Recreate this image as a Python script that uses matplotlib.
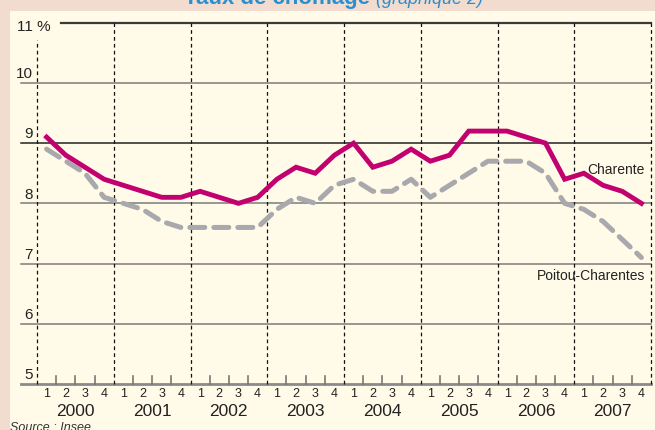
import matplotlib
matplotlib.use("Agg")
import matplotlib.pyplot as plt
from matplotlib.patches import Rectangle
import numpy as np

plt.rcParams['font.family'] = ['Liberation Sans', 'DejaVu Sans']

# Data: unemployment rate (%) per quarter, 2000 Q1 .. 2007 Q4
years = [2000, 2001, 2002, 2003, 2004, 2005, 2006, 2007]
quarter_labels = ["1", "2", "3", "4"]
charente = [9.1, 8.8, 8.6, 8.4, 8.3, 8.2, 8.1, 8.1,
            8.2, 8.1, 8.0, 8.1, 8.4, 8.6, 8.5, 8.8,
            9.0, 8.6, 8.7, 8.9, 8.7, 8.8, 9.2, 9.2,
            9.2, 9.1, 9.0, 8.4, 8.5, 8.3, 8.2, 8.0]
poitou = [8.9, 8.7, 8.5, 8.1, 8.0, 7.9, 7.7, 7.6,
          7.6, 7.6, 7.6, 7.6, 7.9, 8.1, 8.0, 8.3,
          8.4, 8.2, 8.2, 8.4, 8.1, 8.3, 8.5, 8.7,
          8.7, 8.7, 8.5, 8.0, 7.9, 7.7, 7.4, 7.1]
y_ticks = [5, 6, 7, 8, 9, 10]
y_top = 11

PINK = "#f1dccf"
CREAM = "#fffbe8"
MAGENTA = "#c2006f"
GREY = "#a8a8ad"
BLUE = "#2a8fd0"

W, H = 655, 430
fig = plt.figure(figsize=(W / 100, H / 100), dpi=100, facecolor=PINK)
fig.add_artist(Rectangle((10 / W, 0), 1, 1 - 11 / H, transform=fig.transFigure,
                         facecolor=CREAM, edgecolor="none", zorder=0))

left, right = 37 / W, 651 / W
bottom, top = 1 - 384 / H, 1 - 22.7 / H
ax = fig.add_axes([left, bottom, right - left, top - bottom])
ax.set_facecolor("none")
ax.set_xlim(years[0], years[-1] + 1)
ax.set_ylim(5, y_top)
for s in ax.spines.values():
    s.set_visible(False)
ax.set_xticks([])
ax.set_yticks([])

px = (years[-1] + 1 - years[0]) / (651 - 37)  # data units per pixel in x
x_gl = years[0] - 16 * px

# horizontal grid lines
for v in y_ticks[1:]:
    col = "#222222" if v == 9 else "#7a7a7a"
    ax.plot([x_gl, years[-1] + 1], [v, v], color=col, lw=1.1, clip_on=False, zorder=1)
    ax.text(years[0] - 4 * px, v + 0.03, str(v), ha="right", va="bottom",
            fontsize=11, color="#222222")
ax.plot([years[0] + 24 * px, years[-1] + 1], [y_top, y_top], color="#3a3a3a",
        lw=1.6, clip_on=False, zorder=1)
ax.text(years[0] - 20 * px, y_top - 0.07, "11 %", ha="left", va="center",
        fontsize=11, color="#222222")
ax.plot([x_gl, years[-1] + 1], [5, 5], color="#8a8a8a", lw=2, clip_on=False, zorder=1)
ax.text(years[0] - 4 * px, 5.03, "5", ha="right", va="bottom", fontsize=11,
        color="#222222")

# year separators
for i, yr in enumerate(years + [years[-1] + 1]):
    y1 = y_top - 0.28 if i == 0 else y_top
    ax.plot([yr, yr], [5, y1], color="#111111", lw=0.9, ls=(0, (3, 2.5)),
            clip_on=False, zorder=1)

# quarter ticks and labels
for yr in years:
    for q in range(1, 4):
        ax.plot([yr + q / 4, yr + q / 4], [5, 5.14], color="#777777", lw=1.2,
                clip_on=False, zorder=1)
    for q, lab in enumerate(quarter_labels):
        ax.text(yr + (q + 0.5) / 4, 4.83, lab, ha="center", va="center",
                fontsize=9, color="#222222")
    ax.text(yr + 0.5, 4.55, str(yr), ha="center", va="center", fontsize=12.5,
            color="#222222")

xs = np.array([yr + (q + 0.5) / 4 for yr in years for q in range(4)])
ax.plot(xs, poitou, color=GREY, lw=3.6, ls=(0, (3, 1.8)),
        dash_capstyle="round", solid_capstyle="round", zorder=3, clip_on=False)
ax.plot(xs, charente, color=MAGENTA, lw=3.5, solid_joinstyle="miter",
        zorder=4, clip_on=False)

ax.text(years[-1] + 0.92, 8.55, "Charente", ha="right", va="center",
        fontsize=10, color="#222222")
ax.text(years[-1] + 0.92, 6.79, "Poitou-Charentes", ha="right", va="center",
        fontsize=10, color="#222222")

# title (partly cut off at the top, as in the source) and source
fig.text(370 / W, 1 - 4 / H, "Taux de chômage", ha="right", va="baseline",
         fontsize=16, fontweight="bold", color=BLUE)
fig.text(376 / W, 1 - 4 / H, "(graphique 2)", ha="left", va="baseline",
         fontsize=13, fontstyle="italic", color=BLUE)
fig.text(10 / W, 1 - 422 / H, "Source : Insee", ha="left", va="top",
         fontsize=9, fontstyle="italic", color="#333333")

fig.savefig("out.png", dpi=100, facecolor=PINK)
